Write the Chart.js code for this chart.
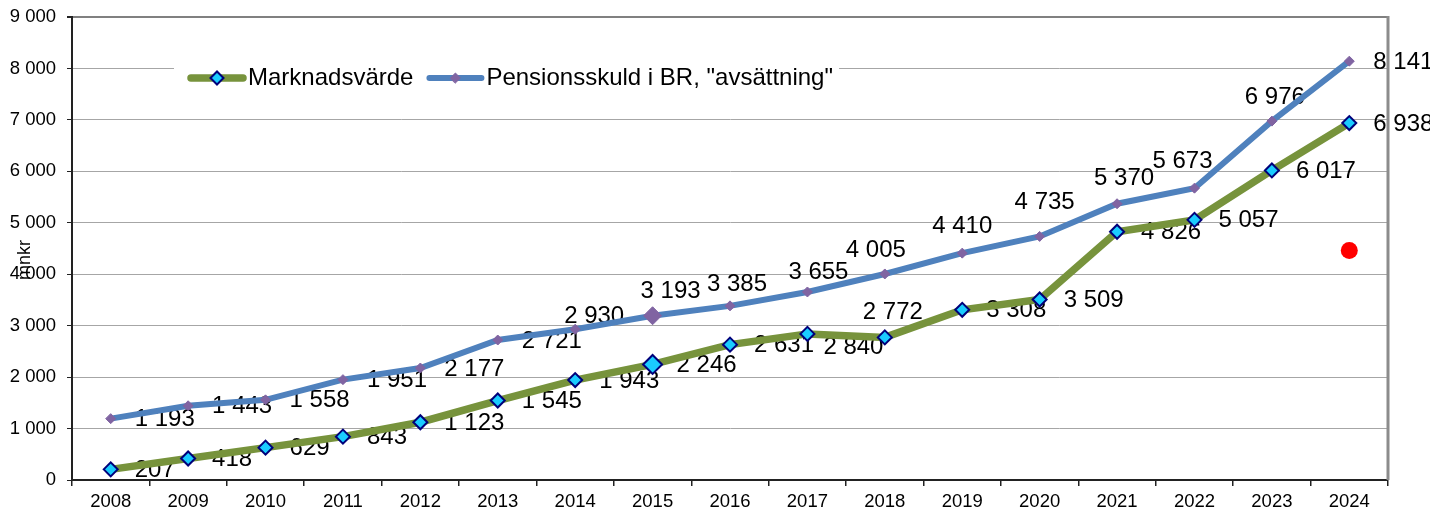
<!DOCTYPE html>
<html lang="sv">
<head>
<meta charset="utf-8">
<title>Marknadsvärde och pensionsskuld</title>
<script src="https://cdn.jsdelivr.net/npm/chart.js@4.4.1/dist/chart.umd.min.js"></script>
<style>
  html, body { margin: 0; padding: 0; background: #fff; }
  #wrap { width: 1430px; height: 510px; }
</style>
</head>
<body>
<div id="wrap"><canvas id="chart" width="1430" height="510"></canvas></div>
<script>
// values, mnkr
const years = ['2008', '2009', '2010', '2011', '2012', '2013', '2014', '2015', '2016',
               '2017', '2018', '2019', '2020', '2021', '2022', '2023', '2024'];
const marketValue = [207, 418, 629, 843, 1123, 1545, 1943, 2246, 2631, 2840, 2772, 3308, 3509, 4826, 5057, 6017, 6938];
const pensionDebt = [1193, 1443, 1558, 1951, 2177, 2721, 2930, 3193, 3385, 3655, 4005, 4410, 4735, 5370, 5673, 6976, 8141];
const redMarker = [null, null, null, null, null, null, null, null, null, null, null, null, null, null, null, null, 4460];

const seriesNames = ['Marknadsvärde', 'Pensionsskuld i BR, "avsättning"'];
const yTitle = 'mnkr';
const bigMarkerYear = '2015';

// labels that were dragged away from the default "right" position (centre offset from the point)
const marketLabelShift = { '2017': [46, 13], '2018': [8, -25] };
const debtLabelShift = {
    '2014': [19, -13], '2015': [18, -24], '2016': [7, -21], '2017': [11, -20], '2018': [-9, -24],
    '2019': [0, -27], '2020': [5, -34], '2021': [7, -25], '2022': [-12, -27], '2023': [3, -24]
};

const fmt = v => String(v).replace(/\B(?=(\d{3})+(?!\d))/g, ' ');

const valueLabels = {
    id: 'valueLabels',
    beforeDatasetsDraw(chart, args, opts) {
        const ctx = chart.ctx;
        ctx.save();
        ctx.font = opts.font;
        ctx.fillStyle = '#000';
        ctx.textBaseline = 'middle';
        chart.data.datasets.forEach((ds, di) => {
            if (!ds.labelShift) return;
            chart.getDatasetMeta(di).data.forEach((pt, i) => {
                const v = ds.data[i];
                if (v == null) return;
                const shift = ds.labelShift[chart.data.labels[i]];
                if (shift) {
                    ctx.textAlign = 'center';
                    ctx.fillText(fmt(v), pt.x + shift[0], pt.y + shift[1]);
                } else {
                    ctx.textAlign = 'left';
                    ctx.fillText(fmt(v), pt.x + opts.gap, pt.y + 1);
                }
            });
        });
        ctx.restore();
    }
};

const plotFrame = {
    id: 'plotFrame',
    beforeDatasetsDraw(chart) {
        const { ctx, chartArea: a } = chart;
        ctx.save();
        ctx.strokeStyle = '#8c8c8c';
        ctx.lineWidth = 3;
        ctx.beginPath();
        ctx.moveTo(a.right, a.top - 1);
        ctx.lineTo(a.right, a.bottom);
        ctx.stroke();
        ctx.restore();
    },
    afterDraw(chart, args, opts) {
        const ctx = chart.ctx;
        ctx.save();
        ctx.font = opts.font;
        ctx.fillStyle = '#000';
        ctx.textAlign = 'center';
        ctx.textBaseline = 'middle';
        ctx.translate(opts.x, opts.y);
        ctx.rotate(-Math.PI / 2);
        ctx.fillText(yTitle, 0, 0);
        ctx.restore();
    }
};

const lineLegend = {
    id: 'lineLegend',
    afterDraw(chart, args, opts) {
        const ctx = chart.ctx;
        ctx.save();
        ctx.fillStyle = '#fff';
        ctx.fillRect(opts.box[0], opts.box[1], opts.box[2] - opts.box[0], opts.box[3] - opts.box[1]);
        ctx.font = opts.font;
        ctx.textBaseline = 'middle';
        ctx.textAlign = 'left';
        let x = opts.x;
        const y = opts.y;
        chart.data.datasets.forEach(ds => {
            if (!ds.label) return;
            ctx.strokeStyle = ds.borderColor;
            ctx.lineWidth = ds.borderWidth;
            ctx.lineCap = 'round';
            ctx.beginPath();
            ctx.moveTo(x + 3, y);
            ctx.lineTo(x + opts.lineLength - 3, y);
            ctx.stroke();
            ctx.fillStyle = ds.pointBackgroundColor;
            ctx.strokeStyle = ds.pointBorderColor;
            ctx.lineWidth = ds.pointBorderWidth;
            Chart.helpers.drawPoint(ctx, {
                pointStyle: 'rectRot', rotation: 0,
                radius: ds.legendRadius, borderWidth: ds.pointBorderWidth
            }, x + opts.lineLength / 2, y);
            ctx.fillStyle = '#000';
            const tx = x + opts.lineLength + 2;
            ctx.fillText(ds.label, tx, y);
            x = tx + ctx.measureText(ds.label).width + opts.gap;
        });
        ctx.restore();
    }
};

const bigOr = (small, big) => c => years[c.dataIndex] === bigMarkerYear ? big : small;
const tickFamily = '"Liberation Sans", Arial, sans-serif';

new Chart(document.getElementById('chart'), {
    type: 'line',
    data: {
        labels: years,
        datasets: [
            {
                label: seriesNames[0],
                data: marketValue,
                borderColor: '#77933C',
                borderWidth: 7.5,
                tension: 0,
                pointStyle: 'rectRot',
                pointRadius: bigOr(7, 9.5),
                pointHoverRadius: bigOr(7, 9.5),
                pointBackgroundColor: '#1ACCFF',
                pointBorderColor: '#00007A',
                pointBorderWidth: 2,
                legendRadius: 6.5,
                labelShift: marketLabelShift
            },
            {
                label: seriesNames[1],
                data: pensionDebt,
                borderColor: '#4F81BD',
                borderWidth: 6,
                tension: 0,
                pointStyle: 'rectRot',
                pointRadius: bigOr(5, 9),
                pointHoverRadius: bigOr(5, 9),
                pointBackgroundColor: '#8064A2',
                pointBorderColor: '#8064A2',
                pointBorderWidth: 1,
                legendRadius: 5,
                labelShift: debtLabelShift
            },
            {
                label: '',
                data: redMarker,
                showLine: false,
                pointStyle: 'circle',
                pointRadius: 8.5,
                pointHoverRadius: 8.5,
                pointBackgroundColor: '#FF0000',
                pointBorderColor: '#FF0000',
                pointBorderWidth: 0,
                borderColor: '#FF0000'
            }
        ]
    },
    options: {
        responsive: false,
        animation: false,
        devicePixelRatio: 1,
        events: [],
        layout: { padding: { left: 0, right: 42, top: 17, bottom: 0 } },
        scales: {
            x: {
                type: 'category',
                offset: true,
                afterFit: s => { s.height = 30; },
                border: { color: '#222', width: 2 },
                grid: {
                    offset: true,
                    drawOnChartArea: false,
                    drawTicks: true,
                    tickLength: 6,
                    tickColor: '#222',
                    lineWidth: 1.5
                },
                ticks: {
                    color: '#000',
                    padding: 7,
                    maxRotation: 0,
                    autoSkip: false,
                    font: { family: tickFamily, size: 18.5, lineHeight: 1 }
                }
            },
            y: {
                min: 0,
                max: 9000,
                afterFit: s => { s.width = 72; },
                border: { color: '#222', width: 2 },
                grid: {
                    color: c => c.tick && c.tick.value === 9000 ? '#808080' : '#a6a6a6',
                    lineWidth: c => c.tick && c.tick.value === 9000 ? 2 : 1,
                    drawTicks: true,
                    tickLength: 5,
                    tickColor: '#222'
                },
                ticks: {
                    stepSize: 1000,
                    color: '#000',
                    padding: 11,
                    callback: v => fmt(v),
                    font: { family: tickFamily, size: 18.5, lineHeight: 0.6 }
                }
            }
        },
        plugins: {
            legend: { display: false },
            tooltip: { enabled: false },
            valueLabels: { font: '24px "Liberation Sans", Arial, sans-serif', gap: 24 },
            plotFrame: { font: '18px "Liberation Sans", Arial, sans-serif', x: 25, y: 260 },
            lineLegend: {
                font: '24px "Liberation Sans", Arial, sans-serif',
                box: [174, 56, 839, 100],
                x: 188, y: 78, lineLength: 58, gap: 13
            }
        }
    },
    plugins: [valueLabels, plotFrame, lineLegend]
});
</script>
</body>
</html>
